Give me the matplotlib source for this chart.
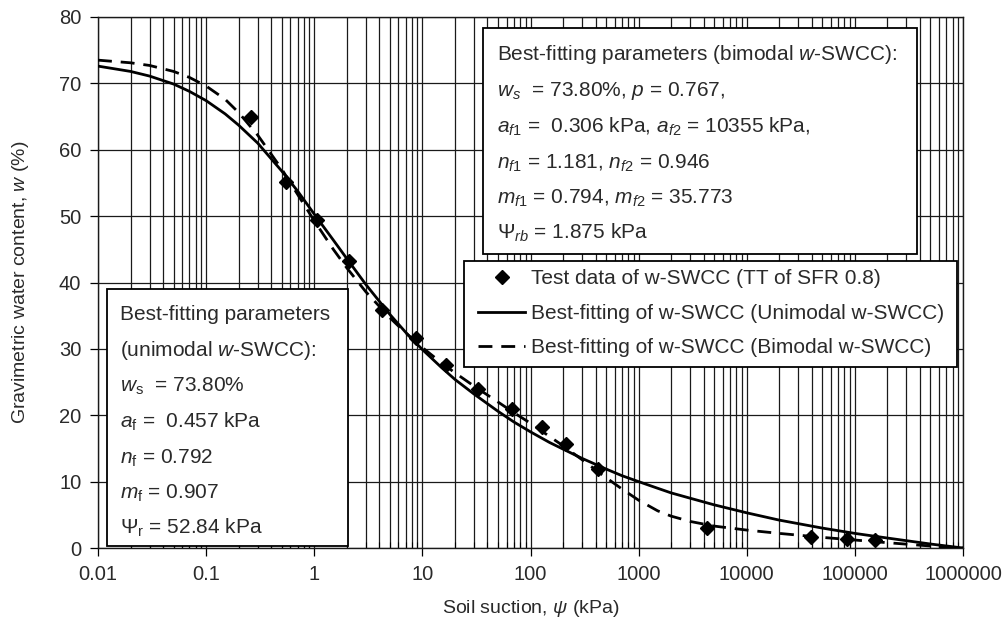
import matplotlib
matplotlib.use("Agg")
import matplotlib.pyplot as plt
from matplotlib.ticker import FixedLocator, LogLocator, NullFormatter
from matplotlib.patches import Rectangle

# ---------------- data ----------------
psi_test = [0.26, 0.55, 1.07, 2.1, 4.2, 8.7, 16.5, 33, 67, 127, 215, 425,
            4250, 39000, 85000, 154000]
w_test = [65.0, 55.2, 49.4, 43.2, 35.8, 31.6, 27.6, 23.9, 20.9, 18.2, 15.6, 11.9,
          3.0, 1.7, 1.3, 1.15]

psi_fit = [0.01, 0.02, 0.03, 0.05, 0.07, 0.1, 0.15, 0.2, 0.3, 0.5, 0.7,
           1, 1.5, 2, 3, 5, 7, 10, 15, 20, 30, 50, 70,
           100, 150, 200, 300, 500, 700, 1000, 1500, 2000, 3000, 5000,
           1e4, 2e4, 5e4, 1e5, 2e5, 5e5, 1e6]
w_unimodal = [72.6, 71.8, 71.1, 69.9, 68.8, 67.4, 65.4, 63.7, 61.0, 56.8, 53.8,
              50.3, 46.4, 43.6, 39.7, 35.2, 32.5, 29.9, 27.2, 25.4, 23.2, 20.6, 19.0,
              17.5, 15.9, 14.9, 13.5, 11.9, 10.9, 10.0, 9.0, 8.3, 7.5, 6.5,
              5.3, 4.2, 3.0, 2.2, 1.5, 0.6, 0.0]
w_bimodal = [73.5, 73.1, 72.7, 71.8, 70.9, 69.6, 67.6, 65.6, 62.2, 57.1, 53.3,
             49.3, 45.0, 42.2, 38.6, 34.7, 32.4, 30.2, 27.9, 26.4, 24.4, 22.0, 20.4,
             18.8, 16.8, 15.4, 13.3, 10.6, 8.9, 7.2, 5.6, 4.8, 4.0, 3.3,
             2.7, 2.2, 1.6, 1.2, 0.8, 0.3, 0.0]

x_ticks = [0.01, 0.1, 1, 10, 100, 1000, 10000, 100000, 1000000]
x_tick_labels = ["0.01", "0.1", "1", "10", "100", "1000", "10000", "100000", "1000000"]
y_ticks = [0, 10, 20, 30, 40, 50, 60, 70, 80]

legend_labels = ["Test data of w-SWCC (TT of SFR 0.8)",
                 "Best-fitting of w-SWCC (Unimodal w-SWCC)",
                 "Best-fitting of w-SWCC (Bimodal w-SWCC)"]

bimodal_lines = [
    r"Best-fitting parameters (bimodal $w$-SWCC):",
    r"$w_s$  = 73.80%, $p$ = 0.767,",
    r"$a_{f1}$ =  0.306 kPa, $a_{f2}$ = 10355 kPa,",
    r"$n_{f1}$ = 1.181, $n_{f2}$ = 0.946",
    r"$m_{f1}$ = 0.794, $m_{f2}$ = 35.773",
    r"$\mathit{Ψ}_{rb}$ = 1.875 kPa",
]
unimodal_lines = [
    r"Best-fitting parameters",
    r"(unimodal $w$-SWCC):",
    r"$w_\mathrm{s}$  = 73.80%",
    r"$a_\mathrm{f}$ =  0.457 kPa",
    r"$n_\mathrm{f}$ = 0.792",
    r"$m_\mathrm{f}$ = 0.907",
    r"$\mathit{Ψ}_\mathrm{r}$ = 52.84 kPa",
]

# ---------------- style ----------------
plt.rcParams["font.family"] = ["Liberation Sans", "DejaVu Sans"]
plt.rcParams["mathtext.fontset"] = "custom"
plt.rcParams["mathtext.rm"] = "Liberation Sans"
plt.rcParams["mathtext.it"] = "Liberation Sans:italic"
plt.rcParams["mathtext.bf"] = "Liberation Sans:bold"

TXT = "#2a2a2a"
W, H = 1008, 628
fig = plt.figure(figsize=(W / 100, H / 100), dpi=100)
L, R, T, B = 98, 963, 17, 548
ax = fig.add_axes([L / W, 1 - B / H, (R - L) / W, (B - T) / H])

ax.set_xscale("log")
ax.set_xlim(0.01, 1e6)
ax.set_ylim(0, 80)

ax.xaxis.set_major_locator(FixedLocator(x_ticks))
ax.set_xticklabels(x_tick_labels)
ax.xaxis.set_minor_locator(LogLocator(base=10, subs=range(2, 10), numticks=100))
ax.xaxis.set_minor_formatter(NullFormatter())
ax.set_yticks(y_ticks)

ax.grid(True, which="major", axis="both", color="#1a1a1a", lw=0.9)
ax.grid(True, which="minor", axis="x", color="#1a1a1a", lw=0.9)
ax.set_axisbelow(True)

ax.tick_params(axis="both", which="major", labelsize=14.5, labelcolor=TXT,
               direction="out", length=6, width=0.9, pad=6)
ax.tick_params(axis="x", which="minor", direction="in", length=4, width=0.8)
for s in ax.spines.values():
    s.set_color("#1a1a1a")
    s.set_linewidth(1.0)

ax.set_xlabel(r"Soil suction, $\mathit{ψ}$ (kPa)", fontsize=14, color=TXT, labelpad=10)
ax.set_ylabel(r"Gravimetric water content, $w$ (%)", fontsize=14, color=TXT, labelpad=20)

# ---------------- marks ----------------
ax.plot(psi_fit, w_unimodal, color="black", lw=2.0, zorder=3, label=legend_labels[1])
ax.plot(psi_fit, w_bimodal, color="black", lw=2.0, linestyle=(0, (5, 3.2)),
        zorder=3, label=legend_labels[2])
ax.plot(psi_test, w_test, linestyle="none", marker="D", markersize=7,
        color="black", zorder=4, label=legend_labels[0])


def px_to_ax(px, py):
    return (px - L) / (R - L), (B - py) / (B - T)


def frame_box(x0, y0, x1, y1, z):
    ax0, ay0 = px_to_ax(x0, y1)
    ax1, ay1 = px_to_ax(x1, y0)
    ax.add_patch(Rectangle((ax0, ay0), ax1 - ax0, ay1 - ay0, transform=ax.transAxes,
                           facecolor="white", edgecolor="black", lw=1.3, zorder=z))


def draw_box(x0, y0, x1, y1, tx, line_ys, lines):
    frame_box(x0, y0, x1, y1, 6)
    for ly, s in zip(line_ys, lines):
        fx, fy = px_to_ax(tx, ly)
        ax.text(fx, fy, s, transform=ax.transAxes, fontsize=15, color=TXT,
                ha="left", va="center", zorder=7)


draw_box(483, 28, 917, 254, 497, [55, 91, 127, 163, 198, 233], bimodal_lines)
draw_box(107, 289, 348, 546, 120, [315, 350, 386, 422, 458, 493, 528], unimodal_lines)

# legend: frame drawn as a box, entries by the legend machinery
frame_box(464, 261, 957, 367, 8)
handles, labels = ax.get_legend_handles_labels()
order = [2, 0, 1]
leg = ax.legend([handles[i] for i in order], [labels[i] for i in order],
                loc="upper left", bbox_to_anchor=px_to_ax(478, 269.5),
                borderaxespad=0, borderpad=0, fontsize=15, frameon=False,
                handlelength=2.26, handletextpad=0.3, labelspacing=0.74)
for t in leg.get_texts():
    t.set_color(TXT)
leg.set_zorder(10)

fig.savefig("out.png", dpi=100, facecolor="white")
